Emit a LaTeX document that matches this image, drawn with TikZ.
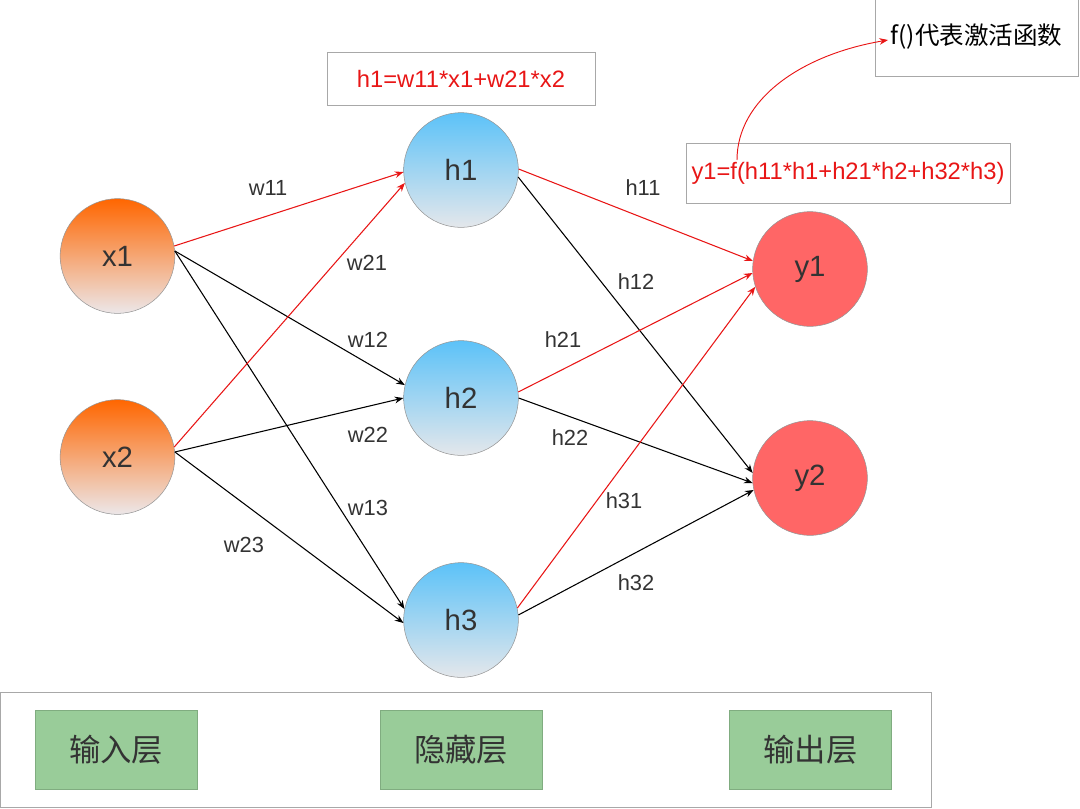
\documentclass[tikz,border=0pt]{standalone}
\usepackage{fontspec}
\setmainfont{Liberation Sans}
\newfontfamily\cjk{Noto Sans CJK SC}
\usepackage{tikz}
\usetikzlibrary{arrows.meta}
\tikzset{>={Stealth[length=6.5pt,width=5pt]}}
\definecolor{linkred}{RGB}{232,22,22}
\definecolor{textgray}{RGB}{51,51,51}
\definecolor{boxgray}{RGB}{168,168,168}
\definecolor{rimgray}{RGB}{150,150,150}
\definecolor{layergreen}{RGB}{153,204,153}
\definecolor{layerrim}{RGB}{128,172,128}
\tikzset{
    neuron/.style={circle,draw=rimgray,minimum size=86pt,inner sep=0pt,
        font=\fontsize{22}{26}\selectfont,text=textgray},
    inneuron/.style={neuron,top color={rgb,255:red,255;green,102;blue,0},
        bottom color={rgb,255:red,236;green,231;blue,233}},
    hidneuron/.style={neuron,top color={rgb,255:red,92;green,194;blue,248},
        bottom color={rgb,255:red,228;green,231;blue,235}},
    outneuron/.style={neuron,fill={rgb,255:red,255;green,102;blue,102}},
    wlabel/.style={font=\fontsize{16.4}{19}\selectfont,text=textgray},
    formula/.style={draw=boxgray,font=\fontsize{17.8}{21}\selectfont,text=linkred},
    layerbox/.style={draw=layerrim,fill=layergreen,minimum width=121.5pt,
        minimum height=59.25pt,font=\cjk\fontsize{23.5}{28}\selectfont,text=textgray}
}
\begin{document}
\begin{tikzpicture}[x=0.75pt,y=-0.75pt]
    \useasboundingbox (0,0) rectangle (1080,808);
    % layer legend
    \node[draw=boxgray,minimum width=698.25pt,minimum height=86.25pt] at (465.5,749.5) (legend) {};
    \node[layerbox] at (116,749.5) (inlayer) {输入层};
    \node[layerbox] at (461,749.5) (hidlayer) {隐藏层};
    \node[layerbox] at (810.5,749.5) (outlayer) {输出层};
    % neurons
    \node[inneuron] at (117.5,256) (x1) {x1};
    \node[inneuron] at (117.5,457) (x2) {x2};
    \node[hidneuron] at (461,170) (h1) {h1};
    \node[hidneuron] at (461,398) (h2) {h2};
    \node[hidneuron] at (461,620) (h3) {h3};
    \node[outneuron] at (810,269) (y1) {y1};
    \node[outneuron] at (810,478) (y2) {y2};
    % formulas
    \node[formula,minimum width=201pt,minimum height=39.75pt] at (461,78.5) (hsum) {h1=w11*x1+w21*x2};
    \node[formula,minimum width=243pt,minimum height=45pt] at (848,173) (ysum) {y1=f(h11*h1+h21*h2+h32*h3)};
    \node[draw=boxgray,minimum width=152.25pt,minimum height=58.5pt,
        font=\cjk\fontsize{18.4}{22}\selectfont,text=black] at (976.5,37) (fnote) {f()代表激活函数};
    \path[->, line width=0.8pt]
    (x1.10) edge [linkred] (h1.182)
    (x1.5) edge (h2.167)
    (x1.5) edge (h3.169)
    (x2.10) edge [linkred] (h1.193)
    (x2.5) edge (h2.180)
    (x2.5) edge (h3.183)
    (h1.1) edge [linkred] (y1.172)
    (h1.-7) edge (y2.175)
    (h2.6) edge [linkred] (y1.184)
    (h2.0) edge (y2.185)
    (h3.12) edge [linkred] (y1.198)
    (h3.5) edge (y2.192)
    ;
    % weight labels
    \node[wlabel] at (268,188) (lw11) {w11};
    \node[wlabel] at (367,263) (lw21) {w21};
    \node[wlabel] at (368,340) (lw12) {w12};
    \node[wlabel] at (368,435) (lw22) {w22};
    \node[wlabel] at (368,508) (lw13) {w13};
    \node[wlabel] at (244,545) (lw23) {w23};
    \node[wlabel] at (643,188) (lh11) {h11};
    \node[wlabel] at (636,282) (lh12) {h12};
    \node[wlabel] at (563,340) (lh21) {h21};
    \node[wlabel] at (570,438) (lh22) {h22};
    \node[wlabel] at (624,501) (lh31) {h31};
    \node[wlabel] at (636,583) (lh32) {h32};
    % note arrow
    \coordinate (fstart) at (737,160);
    \coordinate (fend) at (888,40);
    \draw[->, linkred, line width=0.7pt] (fstart) .. controls (737,100) and (800,55) .. (fend);
\end{tikzpicture}
\end{document}
